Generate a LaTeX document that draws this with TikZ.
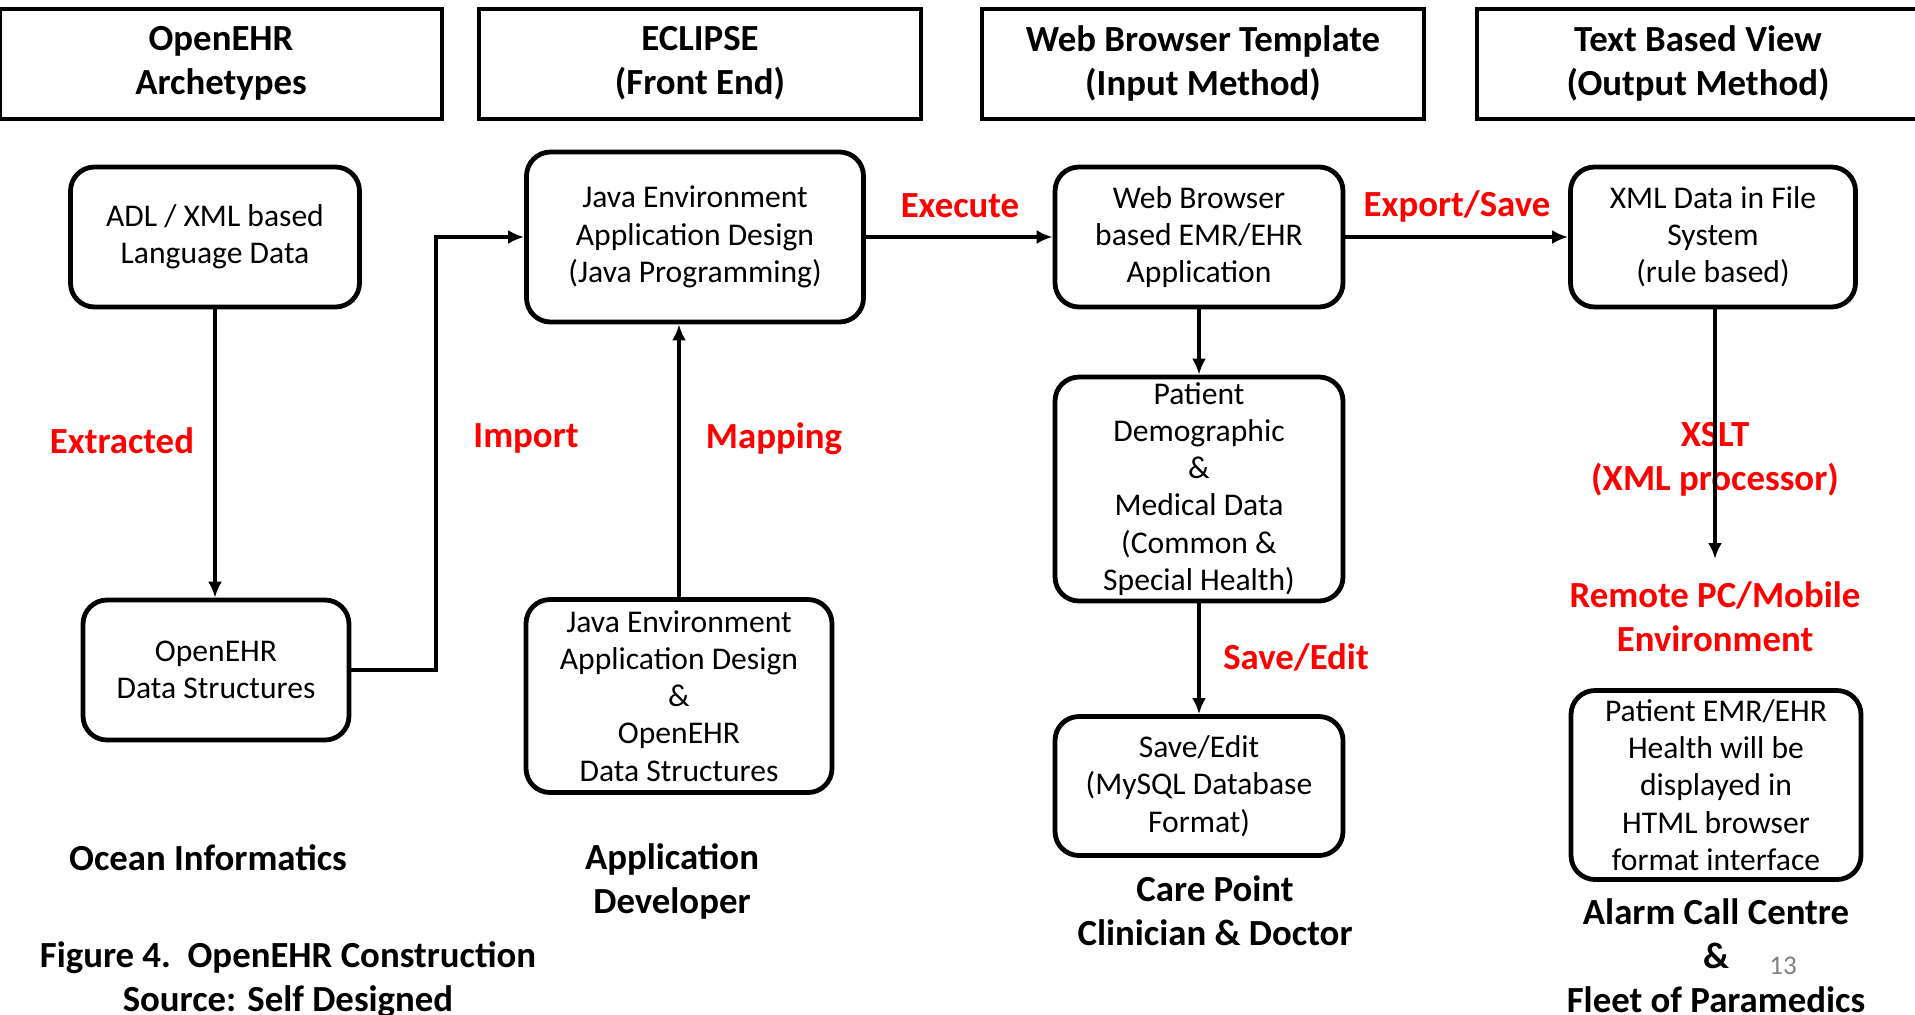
\documentclass[tikz,border=0pt]{standalone}
\usepackage{fontspec}
\setmainfont{Carlito}
\usetikzlibrary{arrows.meta}

\begin{document}
\begin{tikzpicture}
        [x=0.5pt, y=-0.5pt,
         hdr/.style={draw, line width=2pt, minimum width=221pt, minimum height=55pt, align=center, font=\fontsize{18.4}{22}\selectfont\bfseries},
         blk/.style={draw, rounded corners=12pt, line width=2.4pt, inner sep=0pt, align=center, font=\fontsize{15.8}{18.6}\selectfont},
         lbl/.style={text=red, align=center, font=\fontsize{18.4}{22}\selectfont\bfseries},
         capt/.style={align=center, font=\fontsize{18.4}{22}\selectfont\bfseries},
         arr/.style={line width=2.1pt, -{Latex[length=8pt,width=7pt]}}]

        \useasboundingbox (0, 0) rectangle (1915, 1014);

        \node[hdr] (h1) at (221, 63.5) {OpenEHR\\Archetypes};
        \node[hdr] (h2) at (700, 63.5) {ECLIPSE\\(Front End)};
        \node[hdr] (h3) at (1203, 63.5) {Web Browser Template\\(Input Method)};
        \node[hdr] (h4) at (1698, 63.5) {Text Based View\\(Output Method)};

        \node[blk, minimum width=144.5pt, minimum height=70pt] (adl) at (215, 237) {ADL / XML based\\Language Data};
        \node[blk, minimum width=168.5pt, minimum height=85pt] (jtop) at (695, 237) {Java Environment\\Application Design\\(Java Programming)};
        \node[blk, minimum width=144pt, minimum height=70pt] (web) at (1199, 237) {Web Browser\\based EMR/EHR\\Application};
        \node[blk, minimum width=142.5pt, minimum height=70pt] (xml) at (1713, 237) {XML Data in File\\System\\(rule based)};
        \node[blk, minimum width=133pt, minimum height=70pt] (ods) at (216, 670) {OpenEHR\\Data Structures};
        \node[blk, minimum width=153pt, minimum height=96.5pt] (jbot) at (679, 696) {Java Environment\\Application Design\\\&\\OpenEHR\\Data Structures};
        \node[blk, minimum width=144pt, minimum height=112pt] (pat) at (1199, 489) {Patient\\Demographic\\\&\\Medical Data\\(Common \&\\Special Health)};
        \node[blk, minimum width=144pt, minimum height=69.5pt] (sav) at (1199, 786) {Save/Edit\\(MySQL Database\\Format)};
        \node[blk, minimum width=145pt, minimum height=94.5pt] (emr) at (1716, 785) {Patient EMR/EHR\\Health will be\\displayed in\\HTML browser\\format interface};

        % labels on the flows
        \node[lbl] (l1) at (122, 441) {Extracted};
        \node[lbl] (l2) at (526, 438.5) {Import};
        \node[lbl] (l3) at (774, 438.5) {Mapping};
        \node[lbl] (l4) at (960, 206) {Execute};
        \node[lbl] (l5) at (1457, 206) {Export/Save};
        \node[lbl] (l6) at (1296, 657) {Save/Edit};
        \node[lbl] (l7) at (1715, 459.5) {XSLT\\(XML processor)};
        \node[lbl] (l8) at (1715, 617) {Remote PC/Mobile\\Environment};

        \node[capt] (c1) at (208, 858) {Ocean Informatics};
        \node[capt] (c2) at (672, 881.5) {Application\\Developer};
        \node[capt] (c3) at (1215, 911) {Care Point\\Clinician \& Doctor};
        \node[capt] (c4) at (1716, 956) {Alarm Call Centre\\\&\\Fleet of Paramedics};
        \node[capt] (c5) at (288, 979.5) {Figure 4.\ \ OpenEHR Construction\\Source: Self Designed};
        \node[text=gray, font=\fontsize{13.5}{16}\selectfont] (pg) at (1783, 966) {13};

        \coordinate (bend) at (436, 237);
        \coordinate (xend) at (1715, 559);

        \draw[arr] (adl.south) -- (adl.south |- ods.north);
        \draw[arr] (ods.east) -| (bend) -- (jtop.west);
        \draw[arr] (jbot.north) -- (jbot.north |- jtop.south);
        \draw[arr] (jtop.east) -- (web.west);
        \draw[arr] (web.east) -- (xml.west);
        \draw[arr] (web.south) -- (pat.north);
        \draw[arr] (pat.south) -- (sav.north);
        \draw[arr] (xml.south -| xend) -- (xend);
      \end{tikzpicture}
\end{document}
